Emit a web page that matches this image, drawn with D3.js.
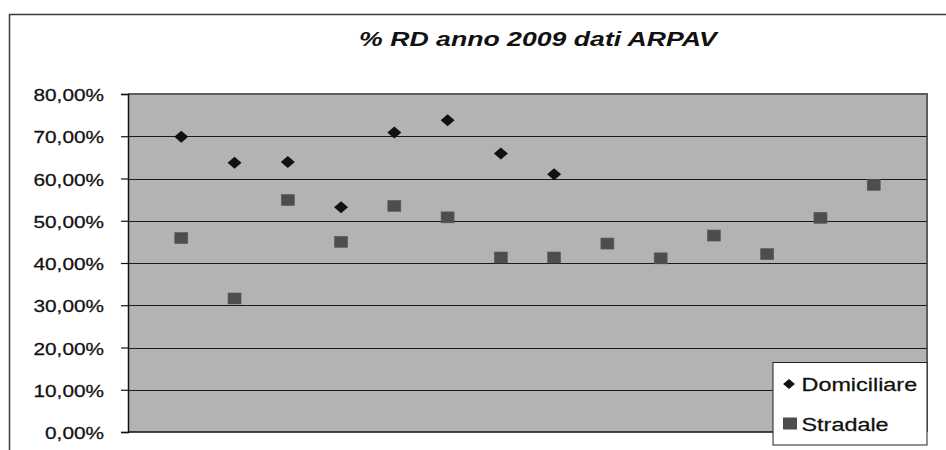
<!DOCTYPE html>
<html>
<head>
<meta charset="utf-8">
<script src="https://cdn.jsdelivr.net/npm/d3@7"></script>
<style>
  html, body { margin: 0; padding: 0; background: #fff; }
  svg { display: block; }
</style>
</head>
<body>
<script>
// Monthly share of separate waste collection (RD), 2009, ARPAV data
const categories = [1, 2, 3, 4, 5, 6, 7, 8, 9, 10, 11, 12, 13, 14];
const domiciliare = [0.699, 0.637, 0.639, 0.532, 0.709, 0.738, 0.659, 0.610, null, null, null, null, null, null];
const stradale = [0.459, 0.316, 0.549, 0.450, 0.535, 0.508, 0.413, 0.413, 0.446, 0.411, 0.465, 0.421, 0.507, 0.585];
const yTicks = [0, 0.1, 0.2, 0.3, 0.4, 0.5, 0.6, 0.7, 0.8];
const seriesNames = ["Domiciliare", "Stradale"];
const chartTitle = "% RD anno 2009 dati ARPAV";

const W = 946, H = 450;
const plot = { left: 128, right: 927, top: 94, bottom: 432 };
const stretch = 1.3; // horizontal widening applied to all text
const font = "'Liberation Sans', Arial, sans-serif";

const svg = d3.select("body").append("svg")
  .attr("width", W).attr("height", H);

svg.append("rect").attr("width", W).attr("height", H).attr("fill", "#fff");

// outer chart frame (open on the right and bottom edges of the window)
svg.append("path")
  .attr("d", `M9.5,${H + 2} V14.5 H${W + 2}`)
  .attr("fill", "none").attr("stroke", "#3a3a3a").attr("stroke-width", 1.5);

const x = d3.scaleLinear().domain([0, 15]).range([plot.left, plot.right]);
const y = d3.scaleLinear().domain([0, 0.8]).range([plot.bottom, plot.top]);

// plot background
svg.append("rect")
  .attr("x", plot.left).attr("y", plot.top)
  .attr("width", plot.right - plot.left).attr("height", plot.bottom - plot.top)
  .attr("fill", "#b3b3b3");

// top and right frame of the plot area
svg.append("path")
  .attr("d", `M${plot.left},${plot.top} H${plot.right} V${plot.bottom}`)
  .attr("fill", "none").attr("stroke", "#5e5e5e").attr("stroke-width", 2);

// horizontal gridlines
svg.append("g").selectAll("line")
  .data(yTicks.filter(t => t > 0 && t < 0.8))
  .join("line")
  .attr("x1", plot.left).attr("x2", plot.right)
  .attr("y1", d => Math.round(y(d)) + 0.5).attr("y2", d => Math.round(y(d)) + 0.5)
  .attr("stroke", "#1a1a1a").attr("stroke-width", 1.2);

// y axis
const pctFmt = d => d3.format(".2f")(d * 100).replace(".", ",") + "%";
const yAxis = svg.append("g")
  .attr("transform", `translate(${plot.left},0)`)
  .call(d3.axisLeft(y).tickValues(yTicks).tickSize(7).tickFormat(pctFmt));
yAxis.select(".domain").attr("stroke", "#111").attr("stroke-width", 1.5);
yAxis.selectAll(".tick line").attr("stroke", "#111").attr("stroke-width", 1.2);
yAxis.selectAll(".tick text")
  .attr("x", 0).attr("dy", "0.42em")
  .attr("transform", `translate(-24,0) scale(${stretch},1)`)
  .attr("text-anchor", "end")
  .style("font-family", font).style("font-size", "16px")
  .attr("fill", "#111").attr("stroke", "#111").attr("stroke-width", 0.25);

// x axis line
svg.append("line")
  .attr("x1", plot.left).attr("x2", plot.right)
  .attr("y1", y(0)).attr("y2", y(0))
  .attr("stroke", "#111").attr("stroke-width", 1.5);

// markers
const diamond = "M0,-6L7,0L0,6L-7,0Z";
const sqW = 13, sqH = 11;

svg.append("g").selectAll("rect")
  .data(categories.map((c, i) => ({ c, v: stradale[i] })).filter(d => d.v != null))
  .join("rect")
  .attr("x", d => x(d.c) - sqW / 2).attr("y", d => y(d.v) - sqH / 2)
  .attr("width", sqW).attr("height", sqH)
  .attr("fill", "#4d4d4d").attr("stroke", "#5a5a5a").attr("stroke-width", 0.6);

svg.append("g").selectAll("path")
  .data(categories.map((c, i) => ({ c, v: domiciliare[i] })).filter(d => d.v != null))
  .join("path")
  .attr("d", diamond)
  .attr("transform", d => `translate(${x(d.c)},${y(d.v)})`)
  .attr("fill", "#111");

// title
svg.append("text")
  .attr("transform", `translate(538,46) scale(${stretch},1)`)
  .attr("text-anchor", "middle")
  .style("font-family", font).style("font-size", "20.5px")
  .style("font-weight", "bold").style("font-style", "italic")
  .attr("fill", "#111")
  .text(chartTitle);

// legend
const lg = svg.append("g").attr("transform", "translate(773,362.5)");
lg.append("rect")
  .attr("width", 154).attr("height", 82.5)
  .attr("fill", "#fff").attr("stroke", "#222").attr("stroke-width", 1);

const items = lg.selectAll("g.item")
  .data(seriesNames)
  .join("g")
  .attr("class", "item")
  .attr("transform", (d, i) => `translate(0,${i === 0 ? 21.5 : 61})`);

items.each(function (d, i) {
  const g = d3.select(this);
  if (i === 0) {
    g.append("path").attr("d", diamond)
      .attr("transform", "translate(16,0) scale(0.85)")
      .attr("fill", "#111");
  } else {
    g.append("rect").attr("x", 10).attr("y", -6).attr("width", 14).attr("height", 12)
      .attr("fill", "#4d4d4d");
  }
  g.append("text")
    .attr("transform", `translate(28.5,7) scale(${stretch},1)`)
    .style("font-family", font).style("font-size", "18px")
    .attr("fill", "#111").attr("stroke", "#111").attr("stroke-width", 0.25)
    .text(d);
});
</script>
</body>
</html>
